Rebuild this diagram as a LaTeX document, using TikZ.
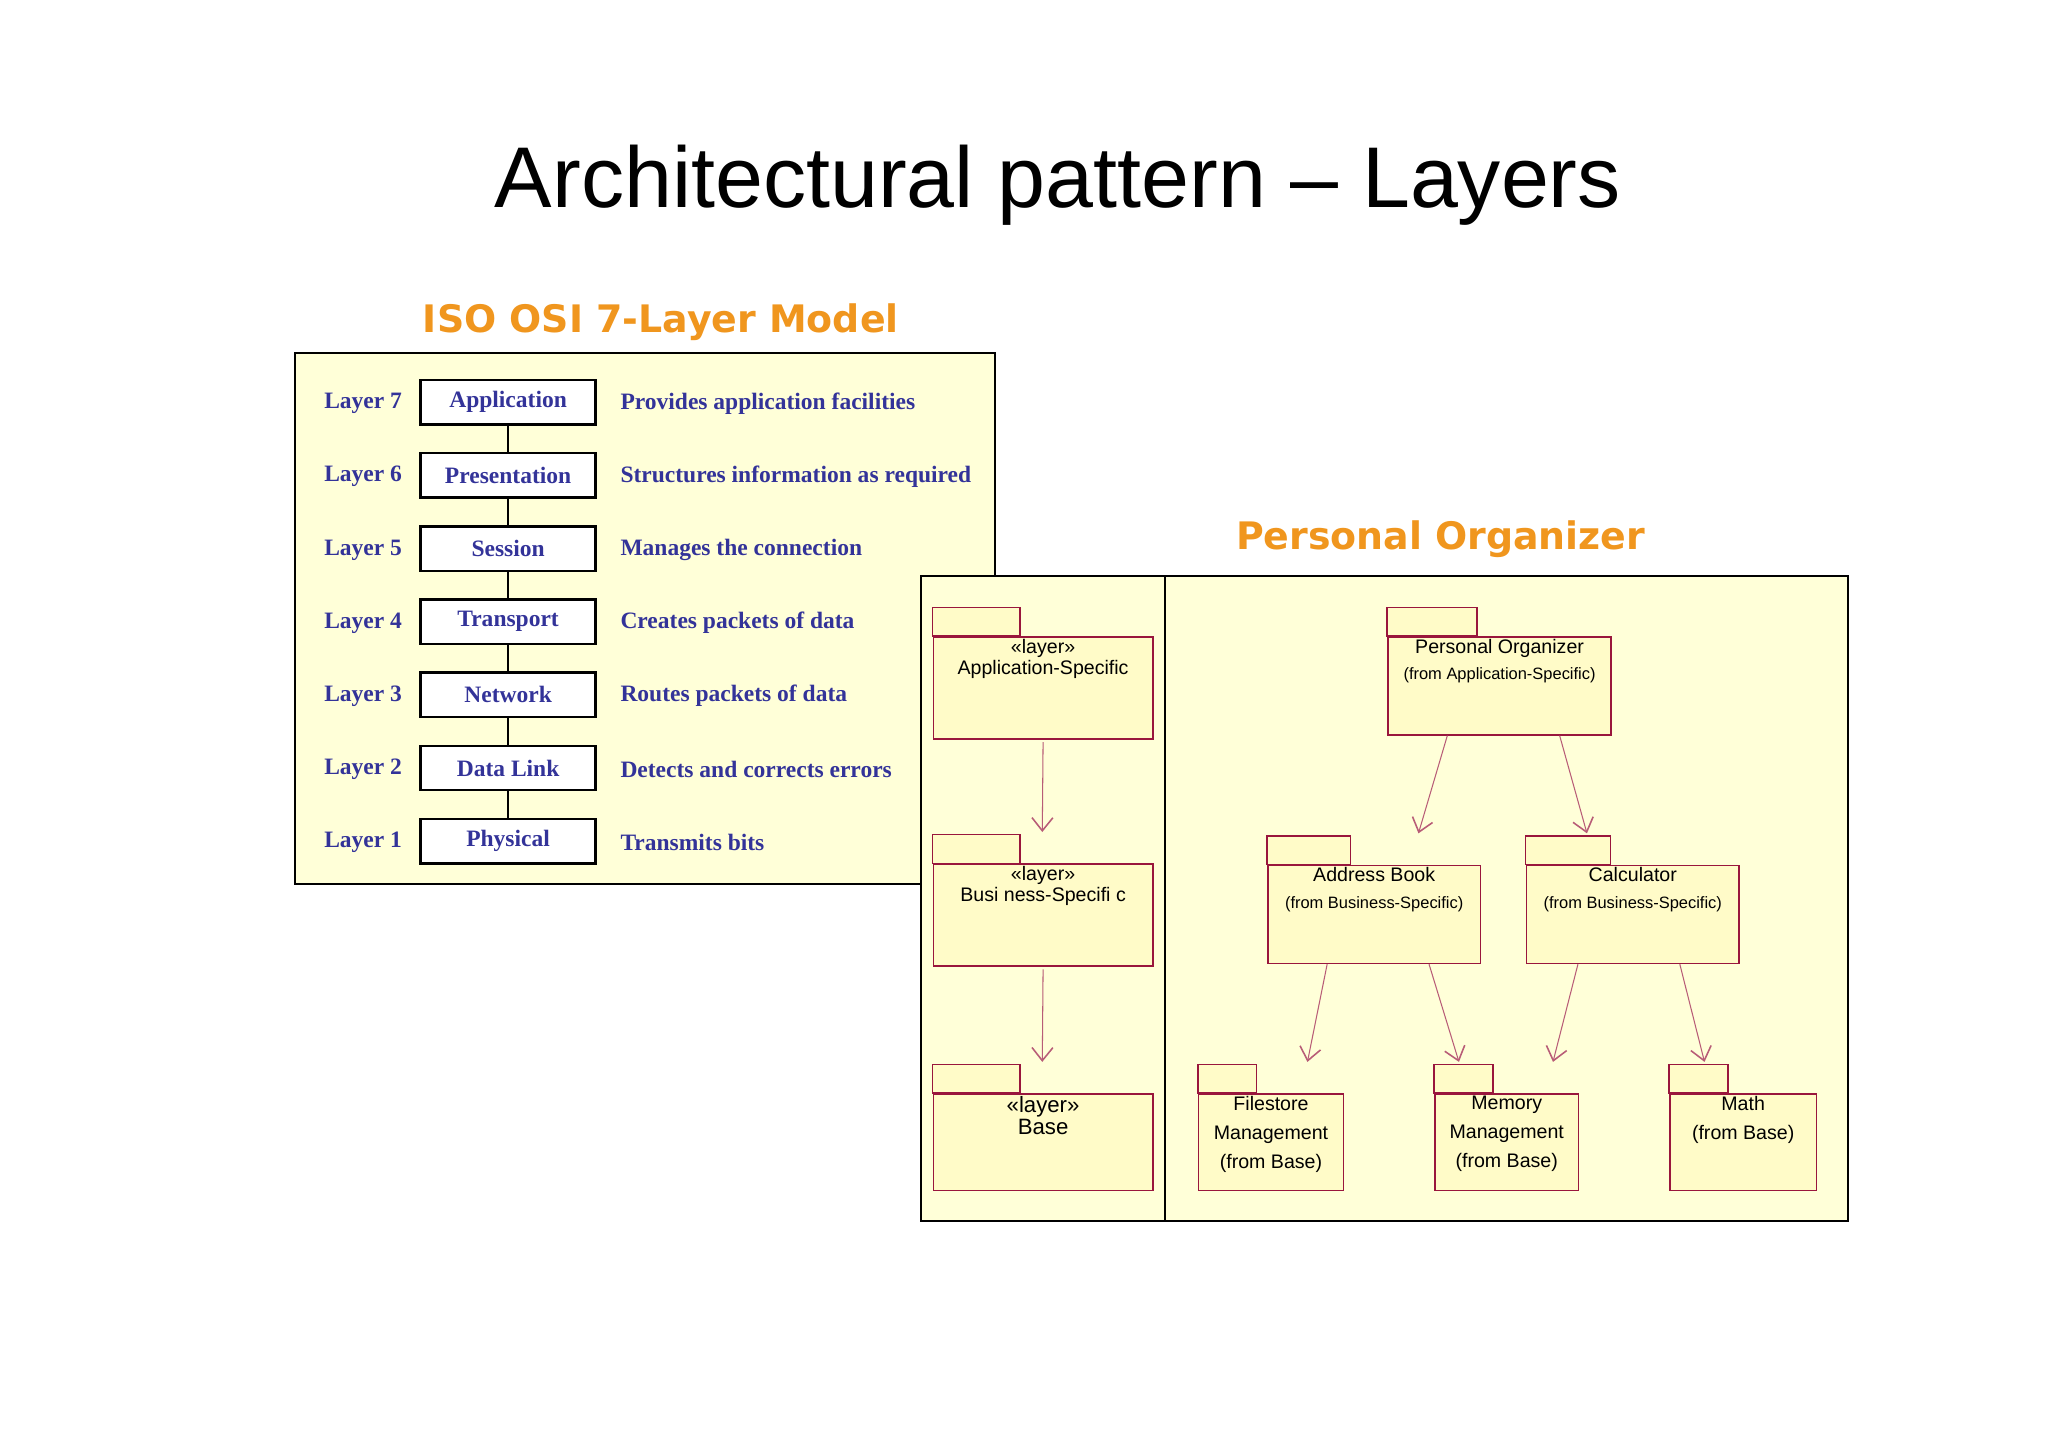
\documentclass[tikz,border=0pt]{standalone}
\usepackage{fontspec}
\setmainfont{Liberation Sans}
\newfontfamily\osif{Liberation Serif}
\newfontfamily\verd{DejaVu Sans}
\usetikzlibrary{arrows.meta}
\definecolor{osiblue}{HTML}{333399}
\definecolor{orng}{HTML}{F0961E}
\definecolor{pan}{HTML}{FFFFD8}
\definecolor{pkgred}{HTML}{99163D}
\definecolor{pkgfill}{HTML}{FFFBC8}
\begin{document}
\begin{tikzpicture}[x=0.5pt,y=-0.5pt,
  osibox/.style={draw=black,line width=0.9pt,fill=white,minimum width=67pt,minimum height=17pt,inner sep=0pt,font=\osif\bfseries\fontsize{9}{10}\selectfont,text=osiblue},
  osilbl/.style={font=\osif\bfseries\fontsize{9}{10}\selectfont,text=osiblue},
  panel/.style={draw=black,line width=0.8pt,fill=pan},
  tab/.style={draw=pkgred,line width=0.6pt,fill=pkgfill},
  body/.style={draw=pkgred,line width=0.6pt,fill=pkgfill,inner sep=0pt},
  dep/.style={draw=pkgred!70,line width=0.4pt,-{Straight Barb[length=5pt,width=8pt,line width=0.6pt]}},
  ptxt/.style={font=\fontsize{7.5}{9}\selectfont,align=center,inner sep=1pt},
  ftxt/.style={font=\fontsize{6.3}{8}\selectfont,align=center,inner sep=1pt}]
\useasboundingbox[fill=white] (0,0) rectangle (1568,1108);
\node[font=\fontsize{33}{38}\selectfont] (title) at (810,142) {Architectural pattern -- Layers};
% OSI
\node[font=\verd\bfseries\fontsize{14.5}{16}\selectfont,text=orng] (osititle) at (506,247) {ISO OSI 7-Layer Model};
\draw[panel] (226,270) rectangle (762,677);
\foreach \n/\name/\desc [count=\i from 0] in {7/Application/Provides application facilities,6/Presentation/Structures information as required,5/Session/Manages the connection,4/Transport/Creates packets of data,3/Network/Routes packets of data,2/Data Link/Detects and corrects errors,1/Physical/Transmits bits}{
  \node[osilbl] (l\n) at (278,{309+56*\i}) {Layer \n};
  \node[osibox] (b\n) at (389,{308+56*\i}) {\name};
  \node[osilbl,anchor=west] (d\n) at (468,{309+56*\i}) {\desc};
}
\foreach \a/\b in {7/6,6/5,5/4,4/3,3/2,2/1} \draw[line width=0.9pt] (b\a.south) -- (b\b.north);
% Personal organizer
\node[font=\verd\bfseries\fontsize{14.5}{16}\selectfont,text=orng] (potitle) at (1103,413) {Personal Organizer};
\draw[panel] (705,441) rectangle (892,935);
\draw[panel] (892,441) rectangle (1415,935);
% packages: tab then body
\newcommand\pkg[7]{% name x1 y1 x2 y2 tabw ; tab above y1 (22px)
  \draw[tab] (#2,#3-22) rectangle (#2+#6,#3);
  \node[body,minimum width={(#4-#2)*0.5pt},minimum height={(#5-#3)*0.5pt},anchor=north west] (#1) at (#2,#3) {};
  \node[anchor=north,inner sep=0pt] (#1t) at (#1.north) {#7};
}
\pkg{app}{714}{487}{882}{565}{67}{\tikz\node[ptxt,font=\fontsize{7.5}{9}\selectfont]{\textless\textless layer\textgreater\textgreater\\[-1pt]Application-Specific};}
\pkg{bus}{714}{661}{882}{739}{67}{\tikz\node[ptxt]{\textless\textless layer\textgreater\textgreater\\[-1pt]Busi ness-Specifi c};}
\pkg{base}{714}{837}{882}{911}{67}{\tikz\node[ptxt,font=\fontsize{8.5}{9.5}\selectfont]{\textless\textless layer\textgreater\textgreater\\[-1pt]Base};}
\pkg{po}{1062}{487}{1233}{562}{69}{\tikz\node[ptxt,align=center]{Personal Organizer\\[1pt]{\fontsize{6.3}{8}\selectfont(from Application-Specific)}};}
\pkg{ab}{970}{662}{1133}{737}{64}{\tikz\node[ptxt]{Address Book\\[1pt]{\fontsize{6.3}{8}\selectfont(from Business-Specific)}};}
\pkg{calc}{1168}{662}{1331}{737}{65}{\tikz\node[ptxt]{Calculator\\[1pt]{\fontsize{6.3}{8}\selectfont(from Business-Specific)}};}
\pkg{fs}{917}{837}{1028}{911}{45}{\tikz\node[ptxt,font=\fontsize{7.5}{11}\selectfont]{Filestore\\Management\\(from Base)};}
\pkg{mem}{1098}{837}{1208}{911}{45}{\tikz\node[ptxt,font=\fontsize{7.5}{11}\selectfont]{Memory\\Management\\(from Base)};}
\pkg{math}{1278}{837}{1390}{911}{45}{\tikz\node[ptxt,font=\fontsize{7.5}{11}\selectfont]{Math\\(from Base)};}
% arrow ends
\coordinate (e1) at (798,637);
\coordinate (e2) at (798,813);
\coordinate (e3) at (1086,638);
\coordinate (e4) at (1215,638);
\coordinate (e5) at (1001,813);
\coordinate (e6) at (1117,813);
\coordinate (e7) at (1189,813);
\coordinate (e8) at (1305,813);
\draw[dep] ([yshift=-1]app.south) -- (e1);
\draw[dep] ([yshift=-1]bus.south) -- (e2);
\draw[dep] ([xshift=-20]po.south) -- (e3);
\draw[dep] ([xshift=23]po.south) -- (e4);
\draw[dep] ([xshift=-18]ab.south) -- (e5);
\draw[dep] ([xshift=21]ab.south) -- (e6);
\draw[dep] ([xshift=-21]calc.south) -- (e7);
\draw[dep] ([xshift=18]calc.south) -- (e8);
\end{tikzpicture}
\end{document}
